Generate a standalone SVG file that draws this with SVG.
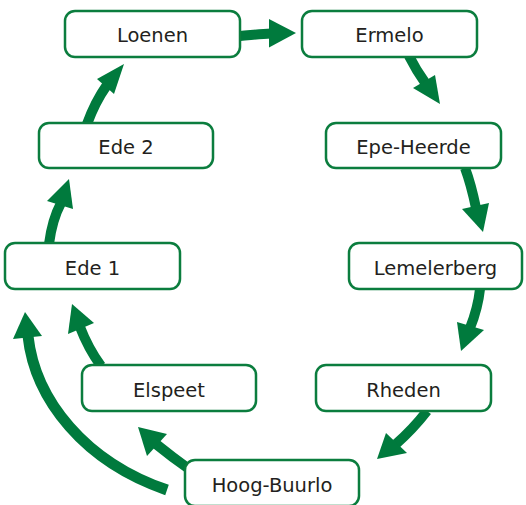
<svg xmlns="http://www.w3.org/2000/svg" width="526" height="505" viewBox="0 0 526 505">
<style>
.box{fill:#ffffff;stroke:#0b7d3e;stroke-width:2.5}
.lbl{font-family:"DejaVu Sans","Liberation Sans",sans-serif;font-size:19.5px;fill:#231f20;text-anchor:middle}
.shaft{fill:none;stroke:#007a3d;stroke-width:10}
.head{fill:#007a3d}
</style>
<rect width="526" height="505" fill="#ffffff"/>
<g id="connectors">
<path class="shaft" d="M240,36 C252,35 260,34 271,33.5"/>
<polygon class="head" points="269,19 296,33 269,47.5"/>
<path class="shaft" d="M409,56 Q416,70 426,84"/>
<polygon class="head" points="413,88 440,104 435,75"/>
<path class="shaft" d="M465,168 Q471,184 476,208"/>
<polygon class="head" points="462,209 483,232 489,203"/>
<path class="shaft" d="M480,289 Q478,308 470,328"/>
<polygon class="head" points="457,322 461,351 484,330"/>
<path class="shaft" d="M427,411 Q413,429 396,444"/>
<polygon class="head" points="386,433 377,459 407,453"/>
<path class="shaft" d="M189,469 Q172,457 156,444"/>
<polygon class="head" points="138,427 147,456 167,434"/>
<path class="shaft" style="stroke-width:11" d="M167,490 C85,462 35,400 28,336"/>
<polygon class="head" points="25,312 13,339 42,336"/>
<path class="shaft" d="M101,366 Q88,348 80,327"/>
<polygon class="head" points="68,334 72,304 94,323"/>
<path class="shaft" d="M49,244 Q52,220 61,203"/>
<polygon class="head" points="47,201 69,179 73,209"/>
<path class="shaft" d="M87,124 Q95,102 107,85"/>
<polygon class="head" points="97,79 124,64 114,94"/>
</g>
<g id="loenen"><rect class="box" x="65" y="11" width="175" height="46" rx="10"/><text class="lbl" x="152.5" y="42.3">Loenen</text></g>
<g id="ermelo"><rect class="box" x="302" y="11" width="175" height="46" rx="10"/><text class="lbl" x="389.5" y="42.3">Ermelo</text></g>
<g id="ede2"><rect class="box" x="39" y="123" width="174" height="45" rx="10"/><text class="lbl" x="126" y="154">Ede 2</text></g>
<g id="epe-heerde"><rect class="box" x="326" y="123" width="175" height="45" rx="10"/><text class="lbl" x="413.5" y="154">Epe-Heerde</text></g>
<g id="ede1"><rect class="box" x="5" y="243" width="175" height="46" rx="10"/><text class="lbl" x="92.5" y="274.5">Ede 1</text></g>
<g id="lemelerberg"><rect class="box" x="349" y="243" width="173" height="46" rx="10"/><text class="lbl" x="435.5" y="274.5">Lemelerberg</text></g>
<g id="elspeet"><rect class="box" x="82" y="365" width="174" height="46" rx="10"/><text class="lbl" x="169" y="396.5">Elspeet</text></g>
<g id="rheden"><rect class="box" x="316" y="365" width="175" height="46" rx="10"/><text class="lbl" x="403.5" y="396.5">Rheden</text></g>
<g id="hoog-buurlo"><rect class="box" x="185" y="460" width="174" height="46" rx="10"/><text class="lbl" x="272" y="492">Hoog-Buurlo</text></g>
</svg>
